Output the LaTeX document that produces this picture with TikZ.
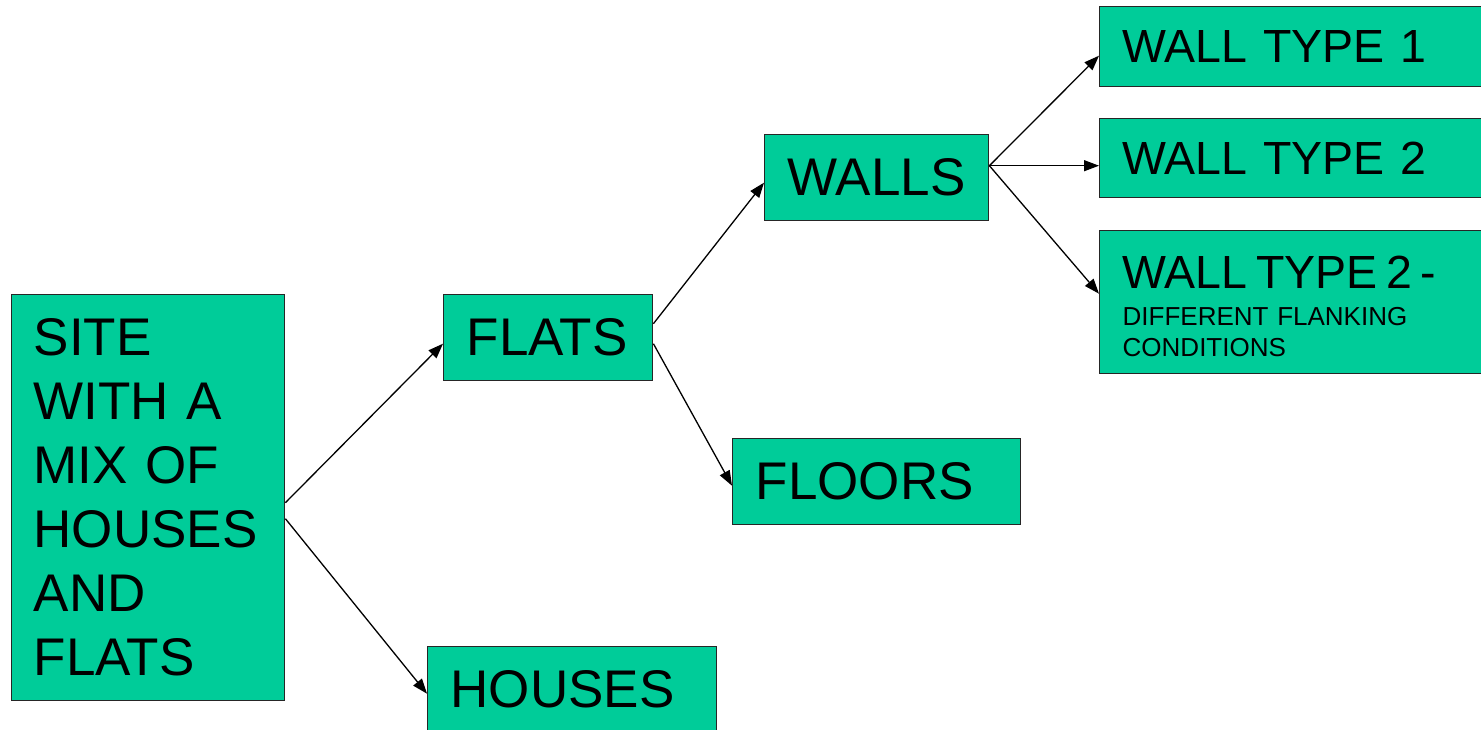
\documentclass[tikz,border=0pt]{standalone}
\usepackage{fontspec}
\setmainfont{Liberation Sans}
\usetikzlibrary{arrows.meta}
\definecolor{boxgreen}{RGB}{0,204,153}
\begin{document}
\begin{tikzpicture}[x=1pt,y=-1pt,
  box/.style={draw=black!85, line width=1.4pt, fill=boxgreen, anchor=north west,
    inner xsep=23pt, inner ysep=0pt, align=left, font=\fontsize{53}{64}\selectfont},
  typebox/.style={box, minimum width=420pt, text width=374pt, font=\fontsize{46.5}{56}\selectfont},
  link/.style={line width=1.3pt, -{Triangle[length=15pt,width=11pt]}}]
\useasboundingbox (0,0) rectangle (1481,730);

% boxes
\node[box, minimum width=273pt, minimum height=406pt, text width=229pt, inner xsep=22pt] (site) at (11,294)
  {SITE\\WITH A\\MIX OF\\HOUSES\\AND\\FLATS};
\node[box, minimum width=209pt, minimum height=86pt, text width=163pt] (flats) at (443,294) {FLATS};
\node[box, minimum width=289pt, minimum height=86pt, text width=243pt] (houses) at (427,646) {HOUSES};
\node[box, minimum width=224pt, minimum height=86pt, text width=178pt] (walls) at (764,134) {WALLS};
\node[box, minimum width=288pt, minimum height=86pt, text width=242pt] (floors) at (732,438) {FLOORS};
\node[typebox, minimum height=80pt] (wt1) at (1099,6) {WALL TYPE 1};
\node[typebox, minimum height=79pt] (wt2) at (1099,118) {WALL TYPE 2};
\node[typebox, minimum height=143pt, font=\fontsize{26}{31}\selectfont] (wt3) at (1099,230)
  {{\fontsize{46.5}{56}\selectfont\rule{0pt}{41pt}WALL TYPE 2 -}\\[6pt]DIFFERENT FLANKING\\CONDITIONS};

% connectors
\draw[link] ([yshift=-5pt]site.east) -- ([yshift=-6pt]flats.west);
\draw[link] ([yshift=-21pt]site.east) -- ([yshift=-4pt]houses.west);
\draw[link] ([yshift=14pt]flats.east) -- ([yshift=-5pt]walls.west);
\draw[link] ([yshift=-6pt]flats.east) -- ([yshift=-4pt]floors.west);
\draw[link] ([yshift=12pt]walls.east) -- ([yshift=-9pt]wt1.west);
\draw[link] ([yshift=12pt]walls.east) -- ([yshift=-7.5pt]wt2.west);
\draw[link] ([yshift=12pt]walls.east) -- ([yshift=8.5pt]wt3.west);
\end{tikzpicture}
\end{document}
